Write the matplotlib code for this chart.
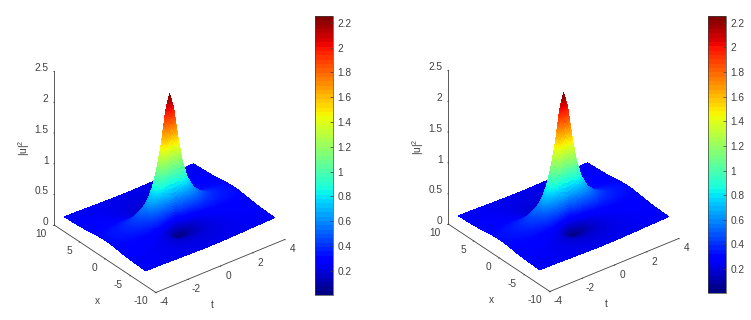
import numpy as np
import matplotlib
matplotlib.use("Agg")
import matplotlib.pyplot as plt
from matplotlib.cm import ScalarMappable
from matplotlib.colors import Normalize
from mpl_toolkits.mplot3d import proj3d

plt.rcParams['font.family'] = ['Liberation Sans', 'DejaVu Sans']
plt.rcParams['mathtext.default'] = 'regular'
plt.rcParams['axes.unicode_minus'] = False

# Surface heights: one quadrant (t >= 0, x >= 0), the surface is mirror-symmetric.
t_half = [0, .25, .5, .75, 1, 1.25, 1.5, 2, 2.5, 3, 4]
x_half = [0, .25, .5, .75, 1, 1.25, 1.5, 1.75, 2, 2.5, 3, 4, 5, 6, 8]
u2_quadrant = [
    [2.25, 1.91, 1.21, .61, .25, .079, .013, .005, .01, .05, .09, .146, .179, .199, .22],
    [2.00, 1.74, 1.17, .65, .31, .136, .058, .033, .034, .063, .097, .149, .18, .20, .22],
    [1.52, 1.38, 1.05, .69, .42, .25, .16, .11, .094, .097, .117, .157, .184, .201, .221],
    [1.12, 1.05, .88, .67, .49, .35, .255, .197, .164, .142, .145, .168, .189, .204, .222],
    [.85, .82, .73, .62, .50, .40, .32, .26, .224, .186, .175, .182, .196, .208, .223],
    [.685, .668, .62, .554, .48, .41, .35, .303, .267, .222, .203, .196, .203, .212, .225],
    [.573, .563, .536, .497, .45, .404, .361, .324, .292, .249, .226, .21, .211, .216, .227],
    [.445, .442, .432, .416, .396, .375, .352, .331, .312, .279, .257, .233, .226, .226, .23],
    [.38, .379, .373, .366, .357, .346, .334, .322, .31, .289, .272, .249, .238, .234, .235],
    [.342, .341, .339, .336, .33, .325, .318, .311, .304, .29, .277, .258, .247, .241, .239],
    [.303, .302, .302, .301, .299, .297, .294, .292, .289, .283, .276, .265, .257, .251, .245],
]
z_ticks = [0, .5, 1, 1.5, 2, 2.5]
z_labels = ['0', '0.5', '1', '1.5', '2', '2.5']
x_ticks = [-10, -5, 0, 5, 10]
t_ticks = [-4, -2, 0, 2, 4]
cbar_ticks = [.2, .4, .6, .8, 1, 1.2, 1.4, 1.6, 1.8, 2, 2.2]
cbar_labels = ['0.2', '0.4', '0.6', '0.8', '1', '1.2', '1.4', '1.6', '1.8', '2', '2.2']
c_min, c_max = .005, 2.255

W, H = 751, 320
GREY = '#404040'
FS = 7.3
fig = plt.figure(figsize=(W / 100, H / 100), dpi=100, facecolor='white')
cmap_bar = plt.get_cmap('jet', 64)
cmap_surf = plt.get_cmap('jet', 256)
norm = Normalize(c_min, c_max)

q = np.array(u2_quadrant)
ts = np.array(t_half)
xs = np.array(x_half)
t_full = np.r_[-ts[:0:-1], ts]
x_full = np.r_[-xs[:0:-1], xs]
z_full = np.hstack([q[:, :0:-1], q])
z_full = np.vstack([z_full[:0:-1], z_full])


def interp_shading(tv, xv, zv, n=8):
    """Colour shading between the table's vertices, like MATLAB's 'shading interp'."""
    it = np.linspace(0, len(tv) - 1, (len(tv) - 1) * n + 1)
    ix = np.linspace(0, len(xv) - 1, (len(xv) - 1) * n + 1)
    t2 = np.interp(it, np.arange(len(tv)), tv)
    x2 = np.interp(ix, np.arange(len(xv)), xv)
    z1 = np.array([np.interp(ix, np.arange(len(xv)), row) for row in zv])
    z2 = np.array([np.interp(it, np.arange(len(tv)), col) for col in z1.T]).T
    return t2, x2, z2


t2, x2, z2 = interp_shading(t_full, x_full, z_full)
T, X = np.meshgrid(t2, x2, indexing='ij')


def panel(dx, dy, cbar_left, cbar_top, cbar_bottom):
    ax = fig.add_axes([(-5 + dx) / W, (H - 330 - dy) / H, 340 / W, 340 / H],
                      projection='3d', proj_type='ortho', facecolor='none')
    ax.view_init(elev=31.5, azim=-128.2)
    ax.set_box_aspect((1, 1, 1.1), zoom=.839)
    ax.plot_surface(T, X, z2, rstride=1, cstride=1, cmap=cmap_surf, norm=norm,
                    linewidth=0, antialiased=False, shade=False)
    ax.set_xlim(-4, 4, view_margin=0)
    ax.set_ylim(-10, 10, view_margin=0)
    ax.set_zlim(0, 2.5, view_margin=0)
    ax.grid(False)
    for a in (ax.xaxis, ax.yaxis, ax.zaxis):
        a.set_pane_color((1, 1, 1, 0))
        a.pane.set_edgecolor((1, 1, 1, 0))
        a.line.set_color(GREY)
        a.line.set_linewidth(.6)
        a._axinfo['tick']['inward_factor'] = 0.06
        a._axinfo['tick']['outward_factor'] = 0.0
        a._axinfo['tick']['linewidth'] = {True: .6, False: .4}
        a._axinfo['tick']['color'] = GREY
    ax.set_xticks(t_ticks)
    ax.set_yticks(x_ticks)
    ax.set_zticks(z_ticks)
    ax.set_xticklabels([])
    ax.set_yticklabels([])
    ax.set_zticklabels([])
    ax.tick_params(labelsize=FS, colors=GREY, pad=0)

    M = ax.get_proj()
    for v in x_ticks:
        px, py, _ = proj3d.proj_transform(-4, v, 0, M)
        ax.annotate(str(v), (px, py), xytext=(-8, -9), textcoords='offset pixels',
                    ha='right', va='center', fontsize=FS, color=GREY, annotation_clip=False)
    for v in t_ticks:
        px, py, _ = proj3d.proj_transform(v, -10, 0, M)
        ax.annotate(str(v), (px, py), xytext=(8, -10), textcoords='offset pixels',
                    ha='center', va='center', fontsize=FS, color=GREY, annotation_clip=False)
    for v, lab in zip(z_ticks, z_labels):
        px, py, _ = proj3d.proj_transform(-4, 10, v, M)
        ax.annotate(lab, (px, py), xytext=(-6, 3), textcoords='offset pixels',
                    ha='right', va='center', fontsize=FS, color=GREY, annotation_clip=False)
    fig.text((97 + dx) / W, (H - 301 - dy) / H, 'x', fontsize=FS, color=GREY, ha='center', va='center')
    fig.text((212 + dx) / W, (H - 305 - dy) / H, 't', fontsize=FS, color=GREY, ha='center', va='center')
    fig.text((24 + dx) / W, (H - 148 - dy) / H, '|u|$^2$', fontsize=FS, color=GREY,
             rotation=90, ha='center', va='center')

    cax = fig.add_axes([cbar_left / W, (H - cbar_bottom) / H, 18 / W, (cbar_bottom - cbar_top) / H])
    cb = fig.colorbar(ScalarMappable(norm, cmap_bar), cax=cax)
    cb.set_ticks(cbar_ticks)
    cb.set_ticklabels(cbar_labels)
    cb.ax.tick_params(direction='in', length=2, width=.5, labelsize=FS, colors=GREY, pad=3)
    cb.outline.set_edgecolor(GREY)
    cb.outline.set_linewidth(.5)
    return ax


panel(0, 0, 315, 16, 295)
panel(394, -1, 708, 16, 293)
fig.savefig('out.png', dpi=100)
